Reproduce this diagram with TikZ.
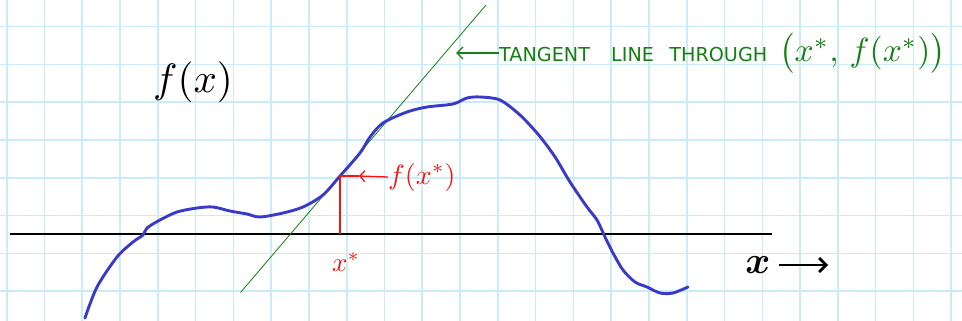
\documentclass[tikz,border=0pt]{standalone}
\usepackage{fontspec}
\usepackage{bm}
\setmainfont{DejaVu Sans}
\usetikzlibrary{arrows.meta}
\definecolor{gridblue}{RGB}{202,236,250}
\definecolor{curveblue}{RGB}{58,58,200}
\definecolor{tangreen}{RGB}{20,128,20}
\definecolor{markred}{RGB}{245,20,20}
\tikzset{
  gridline/.style={gridblue, line width=1.6pt},
  axisline/.style={black, line width=1.6pt},
  curveline/.style={curveblue, line width=2.9pt, line cap=round, line join=round},
  tangentline/.style={tangreen, line width=0.8pt},
  redline/.style={markred, line width=1.3pt},
  redlabel/.style={text=markred, inner sep=0pt},
  greenlabel/.style={text=tangreen, inner sep=0pt},
  blacklabel/.style={text=black, inner sep=0pt},
  barb/.style={-{Straight Barb[length=6pt,width=12pt]}}
}
\begin{document}
\begin{tikzpicture}[x=1pt,y=-1pt]
\useasboundingbox (0,0) rectangle (962,321);
\fill[white] (0,0) rectangle (962,321);
% grid
\foreach \i in {0,...,25} \draw[gridline] ({6.7+37.78*\i},0) -- ++(0,321);
\foreach \j in {0,...,7} \draw[gridline] (0,{26.7+37.78*\j}) -- ++(962,0);
% axis
\coordinate (axL) at (10,234);
\coordinate (axR) at (772,234);
\draw[axisline] (axL) -- (axR);
% tangent line
\coordinate (tA) at (240.5,292.5);
\coordinate (tB) at (486,5);
\draw[tangentline] (tA) -- (tB);
% curve
\draw[curveline] plot[smooth, tension=0.5] coordinates {
(85,318) (97,287) (117,257) (133,242) (143,235) (147,228) (160,220) (177,212)
(197,208) (213,207) (230,211) (247,214) (260,217) (283,213) (303,207) (323,195)
(340,176) (360,153) (370,137) (383,123) (407,112) (427,107) (453,104) (467,98)
(480,97) (500,100) (520,115) (537,133) (548,147) (557,160) (570,182) (587,207)
(597,220) (605,237) (613,253) (623,270) (635,282) (647,287) (660,293) (673,293)
(688,287)};
% point of tangency
\coordinate (P) at (340,176);
\coordinate (Px) at (340,234);
\draw[redline] (P) -- (Px);
% labels
\node[blacklabel] (fx) at (193,82) {\scalebox{4.1}{$f(x)$}};
\node[redlabel, anchor=west] (fxs) at (388,177) {\scalebox{2.8}{$f(x^{*})$}};
\node[redlabel] (xs) at (346,262) {\scalebox{2.7}{$x^{*}$}};
\coordinate (rTip) at (359,176);
\draw[redline, -{Straight Barb[length=5pt,width=11pt]}] (fxs.west) -- (rTip);
\draw[redline] (rTip) -- (P);
\node[greenlabel, anchor=west] (tl) at (499,53) {\scalebox{1.92}{TANGENT\hspace*{11pt}LINE\hspace*{8pt}THROUGH}\hspace*{12pt}\scalebox{3.35}{$\bigl(x^{*}, \,f(x^{*})\bigr)$}};
\coordinate (gTip) at (456,53);
\draw[tangreen, line width=1.4pt, barb] (tl.west) -- (gTip);
\node[blacklabel] (xax) at (758,265) {\scalebox{3.8}{$\bm{x}$}};
\coordinate (xTip) at (828,265);
\draw[black, line width=2.8pt, -{Straight Barb[length=7pt,width=14pt]}] (xax.east) ++(8pt,0) coordinate (xStart) (xStart) -- (xTip);
\end{tikzpicture}
\end{document}
